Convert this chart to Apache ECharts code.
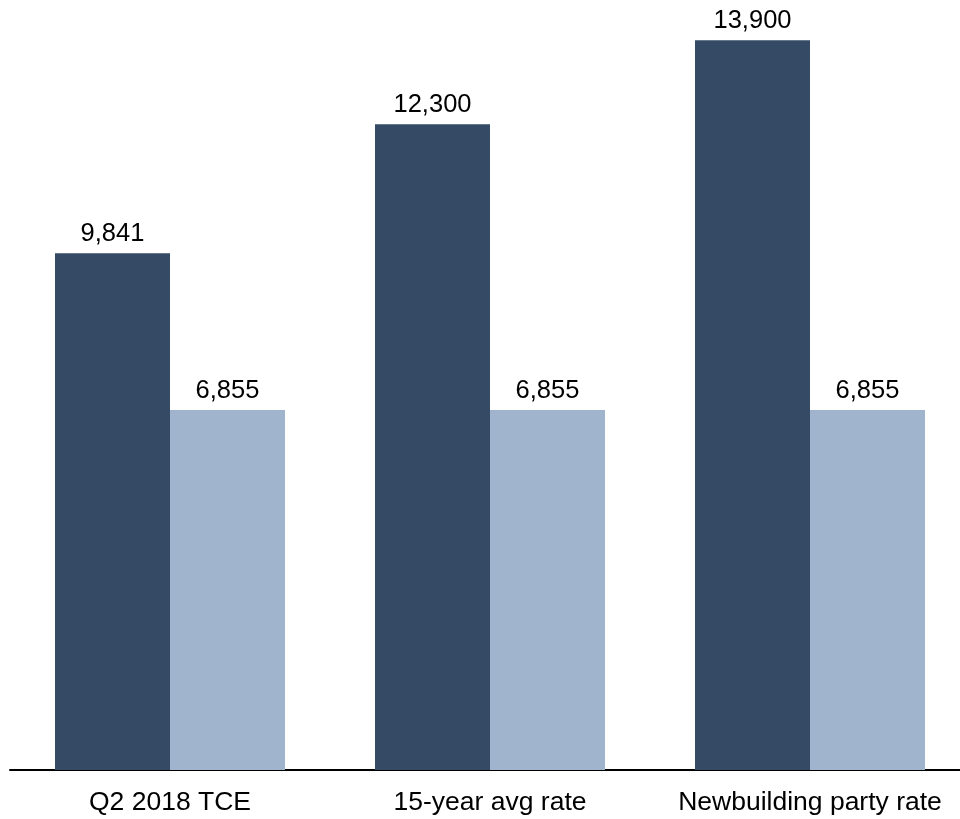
<!DOCTYPE html>
<html>
<head>
<meta charset="utf-8">
<script src="https://cdn.jsdelivr.net/npm/echarts@6/dist/echarts.min.js"></script>
<style>
  html, body { margin: 0; padding: 0; background: #fff; }
  #chart { width: 960px; height: 819px; }
</style>
</head>
<body>
<div id="chart"></div>
<script>
// data
var categories = ['Q2 2018 TCE', '15-year avg rate', 'Newbuilding party rate'];
var rateValues = [9841, 12300, 13900];
var breakevenValues = [6855, 6855, 6855];

var chart = echarts.init(document.getElementById('chart'));

var labelStyle = {
  show: true,
  position: 'top',
  distance: 6,
  color: '#000',
  fontFamily: 'Liberation Sans, Arial, sans-serif',
  fontSize: 25.5,
  formatter: function (p) {
    return p.value.toLocaleString('en-US');
  }
};

var option = {
  animation: false,
  grid: {
    left: 10,
    width: 960,
    top: 35,
    bottom: 49,
    outerBoundsMode: 'none',
    containLabel: false
  },
  xAxis: {
    type: 'category',
    data: categories,
    axisLine: { lineStyle: { color: '#000', width: 2 } },
    axisTick: { show: false },
    axisLabel: {
      color: '#000',
      fontFamily: 'Liberation Sans, Arial, sans-serif',
      fontSize: 26.5,
      margin: 19,
      interval: 0,
      hideOverlap: false
    }
  },
  yAxis: {
    type: 'value',
    min: 0,
    max: 14000,
    show: false
  },
  series: [
    {
      name: 'rate',
      type: 'bar',
      data: rateValues,
      barWidth: 115,
      barGap: '0%',
      itemStyle: { color: '#354a64' },
      label: labelStyle
    },
    {
      name: 'breakeven',
      type: 'bar',
      data: breakevenValues,
      barWidth: 115,
      barGap: '0%',
      itemStyle: { color: '#a1b4cd' },
      label: labelStyle
    }
  ]
};

chart.setOption(option);
</script>
</body>
</html>
